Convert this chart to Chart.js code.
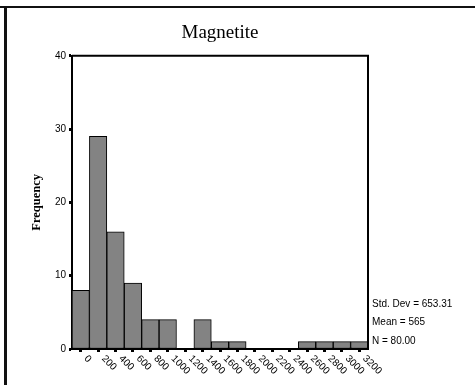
<!DOCTYPE html>
<html>
<head>
<meta charset="utf-8">
<script src="https://cdn.jsdelivr.net/npm/chart.js@4.4.1/dist/chart.umd.min.js"></script>
<style>
  html, body { margin: 0; padding: 0; background: #fff; }
  #wrap { width: 475px; height: 385px; }
</style>
</head>
<body>
<div id="wrap"><canvas id="histChart" width="475" height="385"></canvas></div>
<script>
// histogram bins (labels sit at the bin centres)
const binLabels = ["0", "200", "400", "600", "800", "1000", "1200", "1400", "1600",
  "1800", "2000", "2200", "2400", "2600", "2800", "3000", "3200"];
const frequencies = [8, 29, 16, 9, 4, 4, 0, 4, 1, 1, 0, 0, 0, 1, 1, 1, 1];
const yTicks = [0, 10, 20, 30, 40];
const statLines = ["Std. Dev = 653.31", "Mean = 565", "N = 80.00"];
const chartTitle = "Magnetite";
const yAxisTitle = "Frequency";

const sansFont = "'Liberation Sans', Arial, sans-serif";
const serifFont = "'Liberation Serif', 'Times New Roman', serif";

const spssDecor = {
  id: "spssDecor",
  beforeDraw(chart) {
    const ctx = chart.ctx;
    ctx.save();
    ctx.fillStyle = "#fff";
    ctx.fillRect(0, 0, chart.width, chart.height);
    // outer frame of the output window
    ctx.fillStyle = "#111";
    ctx.fillRect(0, 6, chart.width, 2);
    ctx.fillRect(4, 6, 3, chart.height - 6);
    ctx.restore();
  },
  afterDraw(chart) {
    const ctx = chart.ctx;
    const area = chart.chartArea;
    const xScale = chart.scales.x;
    ctx.save();
    // box round the plot
    ctx.strokeStyle = "#000";
    ctx.lineWidth = 2;
    ctx.beginPath();
    ctx.moveTo(area.left, area.top);
    ctx.lineTo(area.right, area.top);
    ctx.lineTo(area.right, area.bottom);
    ctx.stroke();

    // slanted category labels
    ctx.fillStyle = "#000";
    ctx.font = "10px " + sansFont;
    ctx.textAlign = "left";
    ctx.textBaseline = "middle";
    binLabels.forEach((lab, i) => {
      const x = xScale.getPixelForTick(i);
      ctx.save();
      ctx.translate(x + 5, xScale.top + 8);
      ctx.rotate(Math.PI / 4);
      ctx.fillText(lab, 0, 0);
      ctx.restore();
    });

    // summary statistics
    ctx.font = "10px " + sansFont;
    const ys = [304, 322.5, 341];
    statLines.forEach((s, i) => ctx.fillText(s, area.right + 4, ys[i]));
    ctx.restore();
  }
};

new Chart(document.getElementById("histChart"), {
  type: "bar",
  data: {
    labels: binLabels,
    datasets: [{
      data: frequencies,
      backgroundColor: "#838383",
      borderColor: "#000",
      borderWidth: 1,
      borderSkipped: false,
      barPercentage: 1,
      categoryPercentage: 1
    }]
  },
  options: {
    responsive: false,
    animation: false,
    devicePixelRatio: 1,
    layout: { padding: { top: 0, right: 107, bottom: 0, left: 0 } },
    plugins: {
      legend: { display: false },
      tooltip: { enabled: false },
      title: {
        display: true,
        text: chartTitle,
        fullSize: false,
        color: "#000",
        font: { family: serifFont, size: 19, weight: "normal" },
        padding: { top: 22, bottom: 11 }
      }
    },
    scales: {
      x: {
        grid: {
          offset: false,
          drawOnChartArea: false,
          color: "#000",
          tickLength: 3,
          tickWidth: 3
        },
        border: { color: "#000", width: 2 },
        ticks: { display: false },
        afterFit(scale) { scale.height = 36; }
      },
      y: {
        min: 0,
        max: 40,
        afterBuildTicks(scale) { scale.ticks = yTicks.map(v => ({ value: v })); },
        grid: {
          drawOnChartArea: false,
          color: "#000",
          tickLength: 3,
          tickWidth: 3
        },
        border: { color: "#000", width: 2 },
        ticks: {
          color: "#000",
          padding: 3,
          font: { family: sansFont, size: 10 }
        },
        title: {
          display: true,
          text: yAxisTitle,
          color: "#000",
          font: { family: serifFont, size: 12.5, weight: "bold" },
          padding: { top: 29, bottom: 0 }
        },
        afterFit(scale) { scale.width = 72; }
      }
    }
  },
  plugins: [spssDecor]
});
</script>
</body>
</html>
